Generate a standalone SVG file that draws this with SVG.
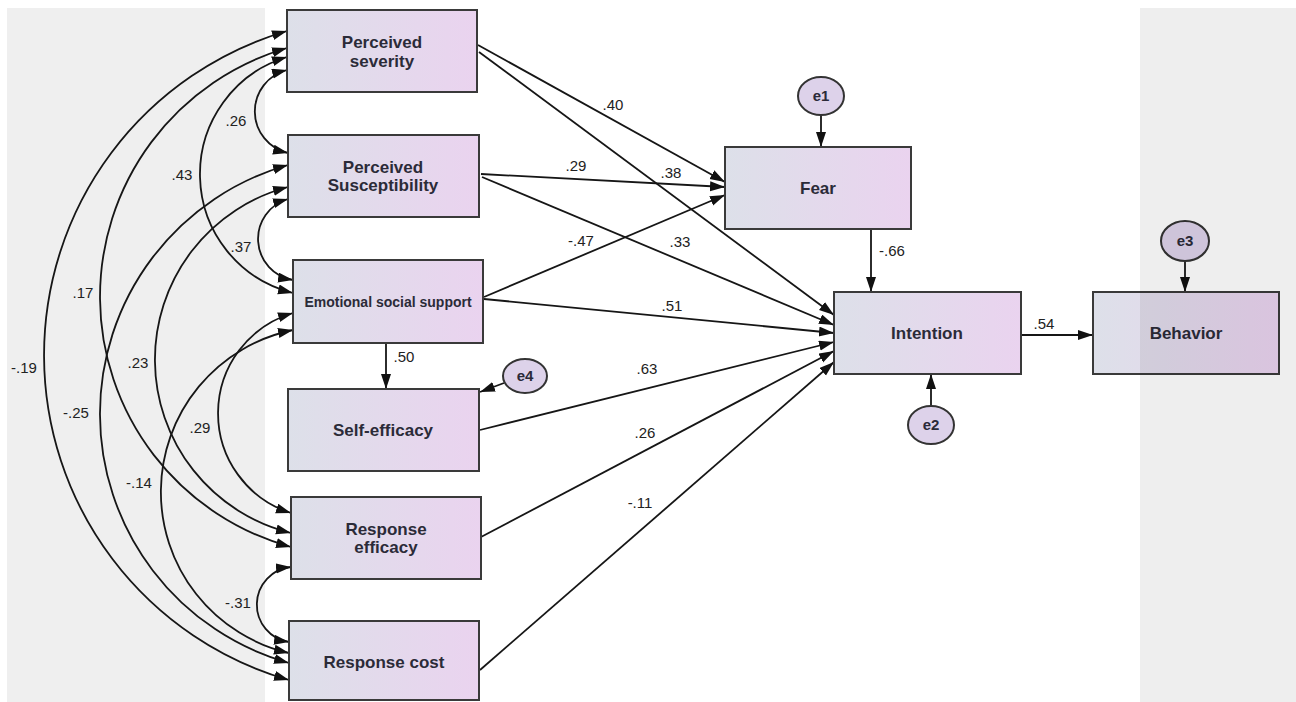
<svg xmlns="http://www.w3.org/2000/svg" width="1296" height="702" viewBox="0 0 1296 702">
<defs>
<linearGradient id="boxg" x1="0" y1="0" x2="1" y2="0">
<stop offset="0" stop-color="#dde0e9"/>
<stop offset="1" stop-color="#ead3ef"/>
</linearGradient>
<marker id="ah" markerUnits="userSpaceOnUse" markerWidth="16" markerHeight="11" refX="15" refY="5" orient="auto-start-reverse">
<path d="M0,0 L15,5 L0,10 z" fill="#111"/>
</marker>
<style>
.box{fill:url(#boxg);stroke:#3a3a3a;stroke-width:2}
.err{fill:#ddd2ea;stroke:#333;stroke-width:2}
.lbl{font-family:"Liberation Sans",Arial,sans-serif;font-weight:bold;font-size:17px;fill:#2b2b38;text-anchor:middle}
.small{font-size:14px}
.elbl{font-family:"Liberation Sans",Arial,sans-serif;font-weight:bold;font-size:15px;fill:#2b2b38;text-anchor:middle}
.val{font-family:"Liberation Sans",Arial,sans-serif;font-size:15px;fill:#222;text-anchor:middle}
.ln{fill:none;stroke:#161616;stroke-width:1.8}
.one{marker-end:url(#ah)}
.two{marker-start:url(#ah);marker-end:url(#ah)}
</style>
</defs>
<rect x="0" y="0" width="1296" height="702" fill="#ffffff"/>
<rect x="7" y="8" width="258" height="694" fill="#efefef"/>

<g id="connectors">
<path class="ln two" d="M287,70 A42.7,42.7 0 0 0 288,153"/>
<path class="ln two" d="M287,57 A122.4,122.4 0 0 0 293,293"/>
<path class="ln two" d="M287,48 A259.2,259.2 0 0 0 291,547"/>
<path class="ln two" d="M287,31 A337.8,337.8 0 0 0 289,680"/>
<path class="ln two" d="M288,199 A41.6,41.6 0 0 0 293,280"/>
<path class="ln two" d="M288,187 A178.5,178.5 0 0 0 291,533"/>
<path class="ln two" d="M288,165 A258.7,258.7 0 0 0 289,663"/>
<path class="ln two" d="M293,313 A104.6,104.6 0 0 0 291,513"/>
<path class="ln two" d="M293,330 A165.3,165.3 0 0 0 289,653"/>
<path class="ln two" d="M291,567 A37.8,37.8 0 0 0 289,642"/>
<path class="ln one" d="M478,45 L725,182"/>
<path class="ln one" d="M481,174 L725,187"/>
<path class="ln one" d="M484,297 L725,195"/>
<path class="ln one" d="M479,52 L834,315"/>
<path class="ln one" d="M482,177 L834,325"/>
<path class="ln one" d="M484,299 L834,333"/>
<path class="ln one" d="M480,430 L834,342"/>
<path class="ln one" d="M481,537 L834,351"/>
<path class="ln one" d="M480,670 L834,362"/>
<path class="ln one" d="M386,343 L386,389"/>
<path class="ln one" d="M871,229 L871,292"/>
<path class="ln one" d="M1021,335 L1093,335"/>
<path class="ln one" d="M821,115 L821,147"/>
<path class="ln one" d="M931,406 L931,374"/>
<path class="ln one" d="M1185,261 L1185,292"/>
<path class="ln one" d="M504,383 L480,392"/>
</g>

<g id="labels">
<text class="val" x="236" y="126">.26</text>
<text class="val" x="182" y="180">.43</text>
<text class="val" x="241" y="252">.37</text>
<text class="val" x="83" y="298">.17</text>
<text class="val" x="138" y="368">.23</text>
<text class="val" x="24" y="373">-.19</text>
<text class="val" x="76" y="418">-.25</text>
<text class="val" x="200" y="433">.29</text>
<text class="val" x="139" y="488">-.14</text>
<text class="val" x="238" y="608">-.31</text>
<text class="val" x="613" y="110">.40</text>
<text class="val" x="576" y="171">.29</text>
<text class="val" x="671" y="178">.38</text>
<text class="val" x="581" y="246">-.47</text>
<text class="val" x="680" y="247">.33</text>
<text class="val" x="672" y="311">.51</text>
<text class="val" x="404" y="362">.50</text>
<text class="val" x="647" y="374">.63</text>
<text class="val" x="645" y="438">.26</text>
<text class="val" x="640" y="508">-.11</text>
<text class="val" x="892" y="256">-.66</text>
<text class="val" x="1044" y="329">.54</text>
</g>

<g id="perceived_severity">
<rect class="box" x="287" y="10" width="190" height="82"/>
<text class="lbl" x="382" y="48">Perceived</text>
<text class="lbl" x="382" y="67">severity</text>
</g>
<g id="perceived_susceptibility">
<rect class="box" x="288" y="135" width="191" height="82"/>
<text class="lbl" x="383" y="173">Perceived</text>
<text class="lbl" x="383" y="191">Susceptibility</text>
</g>
<g id="emotional_social_support">
<rect class="box" x="293" y="260" width="190" height="83"/>
<text class="lbl small" x="388" y="307">Emotional social support</text>
</g>
<g id="self_efficacy">
<rect class="box" x="288" y="389" width="191" height="82"/>
<text class="lbl" x="383" y="436">Self-efficacy</text>
</g>
<g id="response_efficacy">
<rect class="box" x="291" y="497" width="190" height="82"/>
<text class="lbl" x="386" y="535">Response</text>
<text class="lbl" x="386" y="553">efficacy</text>
</g>
<g id="response_cost">
<rect class="box" x="289" y="621" width="190" height="79"/>
<text class="lbl" x="384" y="668">Response cost</text>
</g>
<g id="fear">
<rect class="box" x="725" y="147" width="186" height="82"/>
<text class="lbl" x="818" y="194">Fear</text>
</g>
<g id="intention">
<rect class="box" x="834" y="292" width="187" height="82"/>
<text class="lbl" x="927" y="339">Intention</text>
</g>
<g id="behavior">
<rect class="box" x="1093" y="292" width="186" height="82"/>
<text class="lbl" x="1186" y="339">Behavior</text>
</g>
<g id="e1">
<ellipse class="err" cx="821" cy="96" rx="23" ry="19"/>
<text class="elbl" x="821" y="101">e1</text>
</g>
<g id="e2">
<ellipse class="err" cx="931" cy="425" rx="23" ry="19"/>
<text class="elbl" x="931" y="430">e2</text>
</g>
<g id="e3">
<ellipse class="err" cx="1185" cy="241" rx="24" ry="20"/>
<text class="elbl" x="1185" y="246">e3</text>
</g>
<g id="e4">
<ellipse class="err" cx="525" cy="376" rx="22" ry="17"/>
<text class="elbl" x="525" y="381">e4</text>
</g>
<rect x="1140" y="8" width="156" height="694" fill="#000000" fill-opacity="0.065"/>
</svg>
